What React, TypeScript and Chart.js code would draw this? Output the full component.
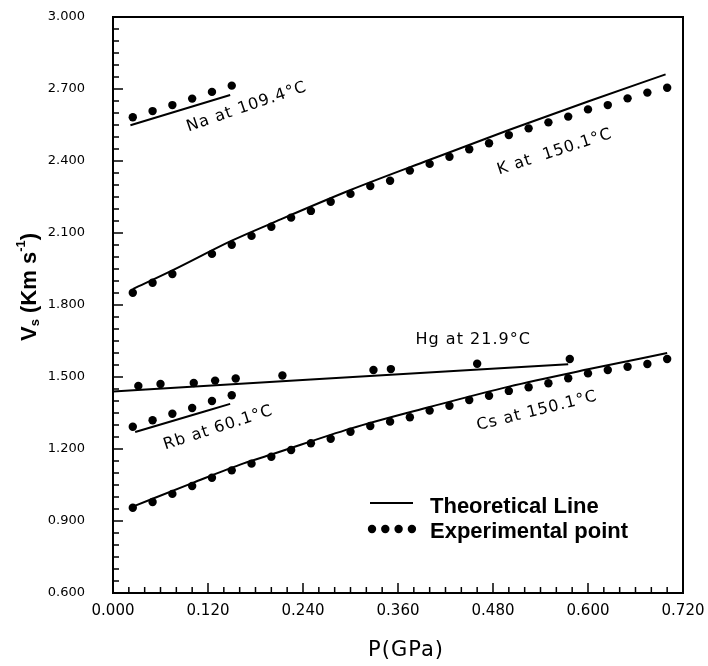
import React, { useEffect, useRef } from "react";
import { Chart, registerables } from "chart.js";

Chart.register(...registerables);

// ---- Data (P in GPa, Vs in km/s) ----
const naExpP = [0.025, 0.05, 0.075, 0.1, 0.125, 0.15];
const naExpV = [2.582, 2.608, 2.633, 2.66, 2.688, 2.714];
const naTheoP = [0.022, 0.148];
const naTheoV = [2.549, 2.675];

const kExpP = [0.025, 0.05, 0.075, 0.125, 0.15, 0.175, 0.2, 0.225, 0.25, 0.275, 0.3, 0.325, 0.35, 0.375, 0.4, 0.425, 0.45, 0.475, 0.5, 0.525, 0.55, 0.575, 0.6, 0.625, 0.65, 0.675, 0.7];
const kExpV = [1.851, 1.893, 1.929, 2.013, 2.051, 2.088, 2.126, 2.164, 2.192, 2.23, 2.263, 2.296, 2.318, 2.36, 2.388, 2.418, 2.449, 2.474, 2.508, 2.536, 2.561, 2.585, 2.615, 2.633, 2.661, 2.685, 2.705];
const kTheoP = [0.025, 0.075, 0.15, 0.2, 0.3, 0.4, 0.5, 0.6, 0.698];
const kTheoV = [1.866, 1.944, 2.068, 2.14, 2.279, 2.405, 2.529, 2.648, 2.761];

const hgExpP = [0.032, 0.06, 0.102, 0.129, 0.155, 0.214, 0.329, 0.351, 0.46, 0.577];
const hgExpV = [1.463, 1.471, 1.475, 1.485, 1.494, 1.506, 1.529, 1.533, 1.555, 1.575];
const hgTheoP = [0.0, 0.25, 0.575];
const hgTheoV = [1.44, 1.49, 1.553];

const rbExpP = [0.025, 0.05, 0.075, 0.1, 0.125, 0.15];
const rbExpV = [1.293, 1.32, 1.347, 1.371, 1.4, 1.424];
const rbTheoP = [0.028, 0.148];
const rbTheoV = [1.271, 1.388];

const csExpP = [0.025, 0.05, 0.075, 0.1, 0.125, 0.15, 0.175, 0.2, 0.225, 0.25, 0.275, 0.3, 0.325, 0.35, 0.375, 0.4, 0.425, 0.45, 0.475, 0.5, 0.525, 0.55, 0.575, 0.6, 0.625, 0.65, 0.675, 0.7];
const csExpV = [0.955, 0.979, 1.013, 1.046, 1.08, 1.111, 1.139, 1.168, 1.196, 1.224, 1.243, 1.272, 1.296, 1.314, 1.332, 1.36, 1.38, 1.404, 1.422, 1.442, 1.457, 1.474, 1.495, 1.515, 1.529, 1.543, 1.554, 1.575];
const csTheoP = [0.025, 0.1, 0.165, 0.2, 0.3, 0.4, 0.5, 0.6, 0.7];
const csTheoV = [0.96, 1.058, 1.14, 1.177, 1.285, 1.375, 1.46, 1.532, 1.6];

// Curve labels and their anchor (data coordinates)
const curveLabels = ["Na at 109.4°C", "K at  150.1°C", "Hg at 21.9°C", "Rb at 60.1°C", "Cs at 150.1°C"];
const curveLabelP = [0.169, 0.558, 0.455, 0.133, 0.5355];
const curveLabelV = [2.625, 2.4375, 1.654, 1.2875, 1.358];
const curveLabelAngle = [-19, -18, 0, -18, -14];

const xTicks = [0, 0.12, 0.24, 0.36, 0.48, 0.6, 0.72];
const yTicks = [0.6, 0.9, 1.2, 1.5, 1.8, 2.1, 2.4, 2.7, 3.0];

const legendLabels = ["Theoretical Line", "Experimental point"];
const xTitle = "P(GPa)";

const zip = (xs: number[], ys: number[]) => xs.map((x, i) => ({ x, y: ys[i] }));

const lineDs = (p: number[], v: number[]) => ({
  data: zip(p, v),
  showLine: true,
  borderColor: "#000",
  borderWidth: 2,
  pointRadius: 0,
  cubicInterpolationMode: "monotone" as const,
  fill: false,
});
const pointDs = (p: number[], v: number[]) => ({
  data: zip(p, v),
  showLine: false,
  pointRadius: 4.2,
  pointBackgroundColor: "#000",
  pointBorderColor: "#000",
  pointBorderWidth: 0,
});

const decorPlugin = {
  id: "decor",
  afterDraw(chart: any) {
    const { ctx, chartArea, scales } = chart;
    const { left, right, top, bottom } = chartArea;
    const x = scales.x;
    const y = scales.y;
    ctx.save();
    ctx.strokeStyle = "#000";
    // frame
    ctx.lineWidth = 2;
    ctx.strokeRect(left, top, right - left, bottom - top);
    // inward ticks
    ctx.lineWidth = 1.5;
    for (let i = 0; i <= 36; i++) {
      const px = x.getPixelForValue(i * 0.02);
      const len = i % 6 === 0 ? 10 : 6;
      ctx.beginPath();
      ctx.moveTo(px, bottom);
      ctx.lineTo(px, bottom - len);
      ctx.stroke();
    }
    for (let i = 0; i <= 48; i++) {
      const py = y.getPixelForValue(0.6 + i * 0.05);
      const len = i % 6 === 0 ? 10 : 6;
      ctx.beginPath();
      ctx.moveTo(left, py);
      ctx.lineTo(left + len, py);
      ctx.stroke();
    }
    // curve labels
    ctx.fillStyle = "#000";
    ctx.font = "16px 'DejaVu Sans'";
    (ctx as any).letterSpacing = "1px";
    ctx.textAlign = "center";
    ctx.textBaseline = "middle";
    curveLabels.forEach((t, i) => {
      const px = x.getPixelForValue(curveLabelP[i]);
      const py = y.getPixelForValue(curveLabelV[i]);
      ctx.save();
      ctx.translate(px, py);
      ctx.rotate((curveLabelAngle[i] * Math.PI) / 180);
      ctx.fillText(t, 0, 0);
      ctx.restore();
    });
    (ctx as any).letterSpacing = "0px";

    // legend
    ctx.lineWidth = 2;
    ctx.beginPath();
    ctx.moveTo(370, 503);
    ctx.lineTo(413, 503);
    ctx.stroke();
    for (let i = 0; i < 4; i++) {
      ctx.beginPath();
      ctx.arc(372 + i * 13.3, 529, 4.2, 0, Math.PI * 2);
      ctx.fill();
    }
    ctx.font = "bold 22px 'Liberation Sans'";
    ctx.textAlign = "left";
    ctx.textBaseline = "alphabetic";
    ctx.fillText(legendLabels[0], 430, 513);
    ctx.fillText(legendLabels[1], 430, 538);

    // x title
    ctx.font = "21px 'DejaVu Sans'";
    ctx.textAlign = "center";
    ctx.textBaseline = "middle";
    (ctx as any).letterSpacing = "1px";
    ctx.fillText(xTitle, 406, 651);
    (ctx as any).letterSpacing = "0px";

    // y title: V_s (Km s^-1)
    ctx.save();
    ctx.translate(30, 287);
    ctx.rotate(-Math.PI / 2);
    const big = "bold 22px 'Liberation Sans'";
    const small = "bold 13px 'Liberation Sans'";
    const parts: [string, string, number][] = [
      ["V", big, 0],
      ["s", small, 5],
      [" (Km s", big, 0],
      ["-1", small, -9],
      [")", big, 0],
    ];
    let total = 0;
    parts.forEach(([t, f]) => {
      ctx.font = f;
      total += ctx.measureText(t).width;
    });
    let cx = -total / 2;
    ctx.textAlign = "left";
    ctx.textBaseline = "middle";
    parts.forEach(([t, f, dy]) => {
      ctx.font = f;
      ctx.fillText(t, cx, dy);
      cx += ctx.measureText(t).width;
    });
    ctx.restore();

    ctx.restore();
  },
};

export default function App() {
  const ref = useRef<HTMLCanvasElement>(null);
  useEffect(() => {
    if (!ref.current) return;
    const chart = new Chart(ref.current, {
      type: "scatter",
      data: {
        datasets: [
          lineDs(naTheoP, naTheoV),
          pointDs(naExpP, naExpV),
          lineDs(kTheoP, kTheoV),
          pointDs(kExpP, kExpV),
          lineDs(hgTheoP, hgTheoV),
          pointDs(hgExpP, hgExpV),
          lineDs(rbTheoP, rbTheoV),
          pointDs(rbExpP, rbExpV),
          lineDs(csTheoP, csTheoV),
          pointDs(csExpP, csExpV),
        ] as any,
      },
      options: {
        responsive: false,
        animation: false,
        devicePixelRatio: 1,
        layout: { padding: { top: 17, right: 25, left: 0, bottom: 0 } },
        plugins: { legend: { display: false }, tooltip: { enabled: false } },
        scales: {
          x: {
            type: "linear",
            min: 0,
            max: 0.72,
            afterFit: (s: any) => {
              s.height = 73;
              s.paddingLeft = 0;
              s.paddingRight = 0;
            },
            afterBuildTicks: (s: any) => {
              s.ticks = xTicks.map((v) => ({ value: v }));
            },
            grid: { display: false, drawTicks: false },
            border: { display: false },
            ticks: {
              padding: 9,
              color: "#000",
              font: { family: "DejaVu Sans", size: 15 },
              maxRotation: 0,
              autoSkip: false,
              callback: (v: any) => Number(v).toFixed(3),
            },
          },
          y: {
            type: "linear",
            min: 0.6,
            max: 3.0,
            afterFit: (s: any) => {
              s.width = 113;
              s.paddingTop = 0;
              s.paddingBottom = 0;
            },
            afterBuildTicks: (s: any) => {
              s.ticks = yTicks.map((v) => ({ value: v }));
            },
            grid: { display: false, drawTicks: false },
            border: { display: false },
            ticks: {
              padding: 28,
              color: "#000",
              font: { family: "DejaVu Sans", size: 13 },
              autoSkip: false,
              callback: (v: any) => Number(v).toFixed(3),
            },
          },
        },
      },
      plugins: [decorPlugin],
    });
    return () => chart.destroy();
  }, []);
  return (
    <div style={{ position: "fixed", left: 0, top: 0, width: 708, height: 666, background: "#fff" }}>
      <canvas ref={ref} width={708} height={666} style={{ width: 708, height: 666 }} />
    </div>
  );
}
